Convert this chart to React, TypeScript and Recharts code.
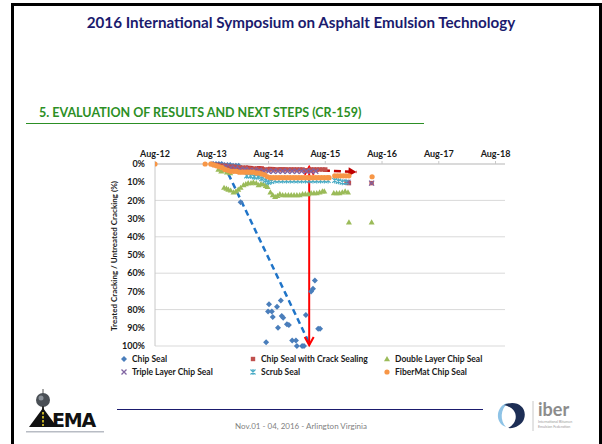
import React from "react";
import { ScatterChart, Scatter, XAxis, YAxis, CartesianGrid, ReferenceLine } from "recharts";

const FONT = "Lato, 'Open Sans', sans-serif";

// axis ticks: months counted from Aug-12
const xTicks = [0, 12, 24, 36, 48, 60, 72];
const xTickLabels = ["Aug-12", "Aug-13", "Aug-14", "Aug-15", "Aug-16", "Aug-17", "Aug-18"];
const yTicks = [0, 10, 20, 30, 40, 50, 60, 70, 80, 90, 100];

type Pt = { m: number; v: number };
const pts = (rows: number[][]): Pt[] => rows.map(([m, v]) => ({ m, v }));

const chipSeal = pts([
  [12.3, 0], [12.9, 0], [13.5, 0], [14.1, 0], [14.7, 0.5], [15.3, 0.5], [15.9, 0.5], [16.5, 1], [17.1, 1], [17.7, 1],
  [18.1, 21],
  [24.1, 77], [23.9, 81], [24.7, 81], [24.9, 84], [25.8, 78.5], [26.6, 75], [26.8, 83.5], [27.1, 84.5], [27.9, 88],
  [28.3, 88.5], [26.0, 90], [23.5, 98], [29.0, 97], [29.8, 97], [30.0, 100], [31.1, 100], [31.5, 100], [31.9, 83],
  [33.0, 70], [33.4, 68.5], [33.8, 64], [34.5, 90.5], [34.9, 90.5],
]);

const crackSealing = pts([
  [12.0, 0], [12.6, 0.5], [13.2, 0.5], [13.8, 1], [14.4, 1], [15.0, 1], [15.6, 1.5], [16.2, 1.5], [16.8, 1.5], [17.4, 2],
  [18.0, 2], [18.6, 2], [19.2, 2], [19.8, 2.5], [20.4, 2.5], [21.0, 2.5], [21.6, 2.5], [22.2, 3], [22.8, 3], [23.4, 3],
  [24.0, 3], [24.6, 3], [25.2, 3], [25.8, 3], [26.4, 3], [27.0, 3], [27.6, 3], [28.2, 3], [28.8, 3], [29.4, 3],
  [30.0, 3], [30.6, 3], [31.2, 3], [31.8, 3.5], [32.4, 3.5], [33.0, 3], [33.6, 3], [34.2, 3], [34.8, 3], [35.4, 3],
  [36.0, 3], [40.5, 10], [41.0, 10.5], [45.8, 10.5],
]);

const doubleLayer = pts([
  [13.4, 3], [14.0, 4], [14.6, 3.5], [15.2, 4.5], [15.9, 5],
  [14.6, 13], [15.1, 13.5], [15.5, 14], [16.0, 14.5], [16.6, 15.5], [17.1, 15], [17.6, 14], [18.1, 13], [18.7, 11.5],
  [19.2, 11], [19.7, 10.5], [20.3, 10.5], [20.8, 10], [21.4, 10.5], [21.9, 11.5], [22.4, 11], [22.9, 11], [23.4, 12],
  [23.8, 12.5], [24.4, 15.5], [24.9, 17], [25.4, 18], [25.9, 17.5], [26.4, 16.5], [27.0, 17], [27.6, 17], [28.2, 17],
  [28.8, 17], [29.4, 17], [30.0, 17], [30.6, 17], [31.2, 16.5], [31.8, 16.5], [32.4, 16.5], [33.0, 16], [33.6, 16],
  [34.2, 16], [34.8, 15.5], [35.4, 15], [35.8, 15], [37.8, 16], [38.4, 16], [39.0, 16], [39.6, 15.5], [40.2, 15],
  [40.8, 15.5], [41.0, 32], [45.8, 32],
]);

const tripleLayer = pts([
  [15.0, 1.5], [16.0, 2], [17.0, 2.5], [18.0, 3], [19.0, 3], [20.0, 3.5], [21.0, 3.5], [22.0, 3.5], [23.0, 4], [24.0, 4],
  [25.0, 4], [26.0, 4], [27.0, 4], [28.0, 4], [29.0, 4], [30.0, 4], [31.0, 4], [32.0, 4], [33.0, 4], [34.0, 4],
  [40.8, 10], [45.8, 10.5],
]);

const scrubSeal = pts([
  [19.4, 6.5], [20.2, 6.5], [21.0, 7], [21.8, 7], [22.6, 8], [23.4, 9], [24.0, 10], [24.6, 9.5], [25.4, 9], [26.2, 9],
  [27.0, 9], [27.8, 9], [28.6, 9], [29.4, 9], [30.2, 9], [31.0, 9], [31.8, 9], [32.6, 9], [33.4, 9], [34.2, 9],
  [35.0, 9], [35.8, 9], [36.6, 9], [38.0, 9], [38.8, 9.5], [39.6, 10], [40.4, 10],
]);

const fiberMat = pts([
  [0, 0], [10.6, 0], [11.8, 0], [12.4, 0.5], [13.0, 1], [13.6, 1.5], [14.2, 2], [14.8, 3], [15.4, 3.5], [16.0, 4],
  [16.6, 4], [17.2, 4], [17.8, 4.5], [18.4, 4.5], [19.0, 4.5], [19.6, 4.5], [20.2, 4.5], [20.8, 4.5], [21.4, 5],
  [22.0, 5], [22.6, 5.5], [23.2, 6], [23.8, 7], [24.4, 7.5], [25.0, 7.5], [25.6, 7.5], [26.2, 7.5], [26.8, 7.5],
  [27.4, 7.5], [28.0, 7.5], [28.6, 7.5], [29.2, 7.5], [29.8, 7.5], [30.4, 7.5], [31.0, 7.5], [31.6, 7.5], [32.2, 7.5],
  [32.8, 7.5], [33.4, 7.5], [34.0, 7.5], [34.6, 7.5], [35.2, 7.5], [35.8, 7.5], [36.4, 7.5], [36.8, 7.5],
  [38.0, 6.5], [38.6, 6.5], [39.2, 6.5], [39.8, 6.5], [40.4, 6.5], [41.0, 6.5], [45.9, 7],
]);

// annotation arrows (data space: months, percent)
const blueTrend = [{ x: 14.6, y: 0.5 }, { x: 32.8, y: 99.5 }];
const redDrop = [{ x: 32.6, y: 1.5 }, { x: 32.6, y: 99.5 }];
const redTrend = [{ x: 14.6, y: 1 }, { x: 42.6, y: 4.4 }];

const COLORS = {
  chip: "#4a7ebb",
  crack: "#c0504d",
  double: "#9bbb59",
  triple: "#8064a2",
  scrub: "#4bacc6",
  fiber: "#f79646",
};

const marker = (kind: string, color: string) => (p: any) => {
  const { cx, cy } = p;
  if (cx == null || cy == null) return <g />;
  switch (kind) {
    case "diamond":
      return <path d={`M${cx},${cy - 3}L${cx + 3},${cy}L${cx},${cy + 3}L${cx - 3},${cy}Z`} fill={color} />;
    case "square":
      return <rect x={cx - 2.2} y={cy - 2.2} width={4.4} height={4.4} fill={color} />;
    case "triangle":
      return <path d={`M${cx},${cy - 3}L${cx + 3},${cy + 2.2}L${cx - 3},${cy + 2.2}Z`} fill={color} />;
    case "x":
      return (
        <path d={`M${cx - 2.5},${cy - 2.5}L${cx + 2.5},${cy + 2.5}M${cx - 2.5},${cy + 2.5}L${cx + 2.5},${cy - 2.5}`} stroke={color} strokeWidth={1.3} />
      );
    case "star":
      return (
        <path
          d={`M${cx - 2.5},${cy - 2.5}L${cx + 2.5},${cy + 2.5}M${cx - 2.5},${cy + 2.5}L${cx + 2.5},${cy - 2.5}M${cx},${cy - 3}L${cx},${cy + 3}`}
          stroke={color}
          strokeWidth={1.2}
        />
      );
    default:
      return <circle cx={cx} cy={cy} r={2.6} fill={color} />;
  }
};

const arrow =
  (color: string, width: number, dash: string | undefined, startHead: string | null, endHead: string | null) =>
  (p: any) => {
    const { x1, y1, x2, y2 } = p;
    const a = Math.atan2(y2 - y1, x2 - x1);
    const head = (x: number, y: number, ang: number, kind: string) => {
      const L = 8;
      const W = 4.5;
      const bx = x - L * Math.cos(ang);
      const by = y - L * Math.sin(ang);
      const px = -Math.sin(ang) * W;
      const py = Math.cos(ang) * W;
      if (kind === "tri") return <path d={`M${x},${y}L${bx + px},${by + py}L${bx - px},${by - py}Z`} fill={color} />;
      return (
        <path d={`M${bx + px},${by + py}L${x},${y}L${bx - px},${by - py}`} fill="none" stroke={color} strokeWidth={width} />
      );
    };
    return (
      <g>
        <line x1={x1} y1={y1} x2={x2} y2={y2} stroke={color} strokeWidth={width} strokeDasharray={dash} />
        {endHead && head(x2, y2, a, endHead)}
        {startHead && head(x1, y1, a + Math.PI, startHead)}
      </g>
    );
  };

const legendItems = [
  { name: "Chip Seal", kind: "diamond", color: COLORS.chip },
  { name: "Chip Seal with Crack Sealing", kind: "square", color: COLORS.crack },
  { name: "Double Layer Chip Seal", kind: "triangle", color: COLORS.double },
  { name: "Triple Layer Chip Seal", kind: "x", color: COLORS.triple },
  { name: "Scrub Seal", kind: "star", color: COLORS.scrub },
  { name: "FiberMat Chip Seal", kind: "circle", color: COLORS.fiber },
];
const legendCols = [120, 249, 383];
const legendRows = [354, 367];

function AemaLogo() {
  return (
    <svg width={84} height={48} style={{ position: "absolute", left: 24, top: 388 }}>
      <line x1={19} y1={1} x2={19} y2={6} stroke="#555" strokeWidth={1} />
      <circle cx={19} cy={12} r={7} fill="#4a4f55" />
      <circle cx={17} cy={10} r={2.5} fill="#8a9098" />
      <rect x={18} y={18} width={2} height={5} fill="#333" />
      <path d="M5,39 L19,20 L33,39 Z" fill="#111" />
      <path d="M19,24 L19,38" stroke="#e8d22a" strokeWidth={1.6} strokeDasharray="2.5 1.5" />
      <text x={28} y={39} fontFamily="'DejaVu Sans', sans-serif" fontWeight={700} fontSize={19} fill="#111" letterSpacing={-1.2}>
        EMA
      </text>
      <rect x={2} y={43} width={78} height={1.5} fill="#b8bcc4" />
    </svg>
  );
}

function IberLogo() {
  return (
    <svg width={102} height={36} style={{ position: "absolute", left: 492, top: 397 }}>
      <path d="M16,6 C4,8 2,26 14,30 C8,24 8,12 16,6 Z" fill="#8ec3e6" />
      <path d="M12,8 C24,2 36,10 32,22 C30,28 22,32 16,31 C26,26 28,12 12,8 Z" fill="#1d2e55" />
      <line x1={41} y1={4} x2={41} y2={34} stroke="#c8c8c8" strokeWidth={1} />
      <text x={46} y={19} fontFamily={FONT} fontWeight={700} fontSize={18} fill="#8c8c8c">
        iber
      </text>
      <text x={46} y={26} fontFamily={FONT} fontSize={3.6} fill="#9a9a9a">
        International Bitumen
      </text>
      <text x={46} y={31} fontFamily={FONT} fontSize={3.6} fill="#9a9a9a">
        Emulsion Federation
      </text>
    </svg>
  );
}

export default function App() {
  return (
    <div
      style={{
        position: "absolute",
        left: 0,
        top: 0,
        width: 602,
        height: 444,
        overflow: "hidden",
        background: "#fff",
        fontFamily: FONT,
      }}
    >
      <div
        style={{
          position: "absolute",
          left: 11,
          top: 3,
          width: 585,
          height: 470,
          border: "3px solid #000",
        }}
      />
      <div
        style={{
          position: "absolute",
          left: 0,
          width: 602,
          top: 13,
          textAlign: "center",
          fontSize: 15.2,
          fontWeight: 700,
          color: "#1b1b6e",
        }}
      >
        2016 International Symposium on Asphalt Emulsion Technology
      </div>
      <div
        style={{
          position: "absolute",
          left: 39,
          top: 105,
          fontSize: 12.5,
          fontWeight: 700,
          color: "#2c8f25",
          whiteSpace: "nowrap",
        }}
      >
        5. EVALUATION OF RESULTS AND NEXT STEPS (CR-159)
      </div>
      <div style={{ position: "absolute", left: 26, top: 123, width: 398, height: 1, background: "#2c8f25" }} />

      <ScatterChart width={602} height={444} margin={{ top: 144, right: 97, bottom: 98, left: 105 }} style={{ position: "absolute", left: 0, top: 0 }}>
        <CartesianGrid vertical={false} stroke="#d9d9d9" />
        <XAxis
          type="number"
          dataKey="m"
          orientation="top"
          domain={[0, 74]}
          ticks={xTicks}
          tickFormatter={(v: number) => xTickLabels[xTicks.indexOf(v)]}
          height={20}
          tickSize={3}
          tickMargin={4}
          axisLine={{ stroke: "#c8c8c8" }}
          tickLine={{ stroke: "#c8c8c8" }}
          tick={{ fontSize: 9, fontWeight: 700, fill: "#1a1a1a", fontFamily: FONT }}
          allowDataOverflow
        />
        <YAxis
          type="number"
          dataKey="v"
          reversed
          domain={[0, 100]}
          ticks={yTicks}
          tickFormatter={(v: number) => `${v}%`}
          width={50}
          tickLine={false}
          tickSize={6}
          tickMargin={4}
          axisLine={{ stroke: "#c8c8c8" }}
          tick={{ fontSize: 9, fontWeight: 700, fill: "#1a1a1a", fontFamily: FONT }}
        />
        <Scatter name="Chip Seal" data={chipSeal} shape={marker("diamond", COLORS.chip)} isAnimationActive={false} />
        <Scatter name="Chip Seal with Crack Sealing" data={crackSealing} shape={marker("square", COLORS.crack)} isAnimationActive={false} />
        <Scatter name="Double Layer Chip Seal" data={doubleLayer} shape={marker("triangle", COLORS.double)} isAnimationActive={false} />
        <Scatter name="Triple Layer Chip Seal" data={tripleLayer} shape={marker("x", COLORS.triple)} isAnimationActive={false} />
        <Scatter name="Scrub Seal" data={scrubSeal} shape={marker("star", COLORS.scrub)} isAnimationActive={false} />
        <Scatter name="FiberMat Chip Seal" data={fiberMat} shape={marker("circle", COLORS.fiber)} isAnimationActive={false} />
        <ReferenceLine segment={blueTrend} shape={arrow("#1f74c8", 2.5, "6 4", null, null)} ifOverflow="visible" />
        <ReferenceLine segment={redTrend} shape={arrow("#c00000", 2.5, "7 4", null, "tri")} ifOverflow="visible" />
        <ReferenceLine segment={redDrop} shape={arrow("#ff0000", 2, undefined, "v", "v")} ifOverflow="visible" />
      </ScatterChart>

      <div
        style={{
          position: "absolute",
          left: 114,
          top: 256,
          transform: "translate(-50%, -50%) rotate(-90deg)",
          whiteSpace: "nowrap",
          fontSize: 8,
          fontWeight: 700,
          color: "#1a1a1a",
        }}
      >
        Treated Cracking / Untreated Cracking (%)
      </div>

      {legendItems.map((it, i) => (
        <div
          key={it.name}
          style={{
            position: "absolute",
            left: legendCols[i % 3],
            top: legendRows[Math.floor(i / 3)],
            display: "flex",
            alignItems: "center",
            whiteSpace: "nowrap",
            fontSize: 8.5,
            fontWeight: 700,
            color: "#1a1a1a",
          }}
        >
          <svg width={8} height={8} style={{ marginRight: 4 }}>
            {marker(it.kind, it.color)({ cx: 4, cy: 4 })}
          </svg>
          {it.name}
        </div>
      ))}

      <div style={{ position: "absolute", left: 117, top: 409, width: 366, height: 1, background: "#1b1b6e" }} />
      <div
        style={{
          position: "absolute",
          left: 0,
          width: 602,
          top: 421,
          textAlign: "center",
          fontSize: 8,
          color: "#7f7f7f",
        }}
      >
        Nov.01 - 04, 2016 - Arlington Virginia
      </div>
      <AemaLogo />
      <IberLogo />
    </div>
  );
}
